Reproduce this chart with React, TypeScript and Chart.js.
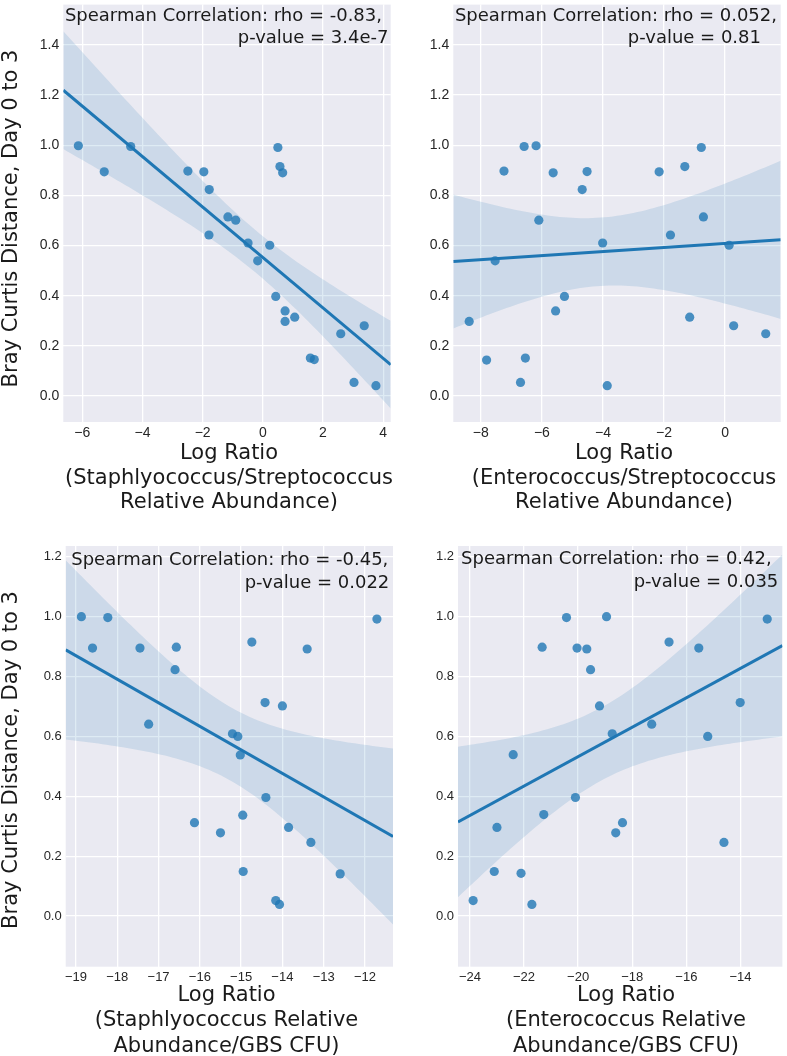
import React, { useEffect, useRef } from "react";
import { Chart, registerables } from "chart.js";

Chart.register(...registerables);

// ---------------- data ----------------
const p1X = [-6.13, -5.27, -4.39, -2.49, -1.96, -1.78, -1.79, -1.16, -0.9, -0.49, -0.17, 0.23, 0.5, 0.57, 0.66, 0.43, 0.74, 0.74, 1.06, 1.58, 1.71, 2.59, 3.37, 3.03, 3.76];
const p1Y = [0.998, 0.894, 0.995, 0.897, 0.894, 0.823, 0.642, 0.714, 0.701, 0.61, 0.539, 0.601, 0.991, 0.915, 0.89, 0.397, 0.339, 0.297, 0.314, 0.151, 0.145, 0.248, 0.28, 0.054, 0.041];

const p2X = [-8.38, -7.81, -7.53, -7.24, -6.7, -6.58, -6.54, -6.19, -6.1, -5.63, -5.55, -5.26, -4.68, -4.52, -4.01, -3.86, -2.16, -1.79, -1.32, -1.16, -0.78, -0.71, 0.13, 0.28, 1.33];
const p2Y = [0.297, 0.143, 0.539, 0.897, 0.054, 0.995, 0.151, 0.998, 0.701, 0.89, 0.339, 0.397, 0.823, 0.895, 0.61, 0.041, 0.894, 0.642, 0.915, 0.314, 0.991, 0.714, 0.601, 0.28, 0.248];

const p3X = [-18.87, -18.6, -18.23, -17.45, -17.24, -16.57, -16.6, -16.13, -15.5, -15.21, -15.08, -15.02, -14.96, -14.95, -14.74, -14.42, -14.4, -14.0, -13.85, -14.16, -14.07, -13.4, -13.31, -12.6, -11.71];
const p3Y = [1.0, 0.895, 0.997, 0.895, 0.641, 0.898, 0.823, 0.312, 0.278, 0.609, 0.6, 0.538, 0.337, 0.149, 0.915, 0.713, 0.396, 0.702, 0.296, 0.052, 0.039, 0.892, 0.246, 0.141, 0.992];

const p4X = [-23.88, -23.1, -23.0, -22.4, -22.11, -21.71, -21.33, -21.27, -20.43, -20.1, -20.04, -19.68, -19.54, -19.21, -18.95, -18.74, -18.61, -18.36, -17.28, -16.64, -15.54, -15.21, -14.61, -14.01, -13.01];
const p4Y = [0.052, 0.149, 0.296, 0.539, 0.143, 0.039, 0.898, 0.339, 0.997, 0.396, 0.895, 0.892, 0.823, 0.702, 1.0, 0.609, 0.278, 0.312, 0.641, 0.915, 0.895, 0.6, 0.246, 0.713, 0.992];

const yTicksTop = [0, 0.2, 0.4, 0.6, 0.8, 1.0, 1.2, 1.4];
const yTicksBottom = [0, 0.2, 0.4, 0.6, 0.8, 1.0, 1.2];
const p1XTicks = [-6, -4, -2, 0, 2, 4];
const p2XTicks = [-8, -6, -4, -2, 0];
const p3XTicks = [-19, -18, -17, -16, -15, -14, -13, -12];
const p4XTicks = [-24, -22, -20, -18, -16, -14];

const p1Annotation = ["Spearman Correlation: rho = -0.83,", "p-value = 3.4e-7"];
const p2Annotation = ["Spearman Correlation: rho = 0.052,", "p-value = 0.81"];
const p3Annotation = ["Spearman Correlation: rho = -0.45,", "p-value = 0.022"];
const p4Annotation = ["Spearman Correlation: rho = 0.42,", "p-value = 0.035"];

const p1XTitle = ["Log Ratio", "(Staphlyococcus/Streptococcus", "Relative Abundance)"];
const p2XTitle = ["Log Ratio", "(Enterococcus/Streptococcus", "Relative Abundance)"];
const p3XTitle = ["Log Ratio", "(Staphlyococcus Relative", "Abundance/GBS CFU)"];
const p4XTitle = ["Log Ratio", "(Enterococcus Relative", "Abundance/GBS CFU)"];

const yTitle = "Bray Curtis Distance, Day 0 to 3";

// ---------------- layout / style ----------------
const W = 787;
const H = 1056;
const T975 = 2.069; // Student t, df = 23

const panels = [
  {
    xs: p1X, ys: p1Y, xTicks: p1XTicks, yTicks: yTicksTop,
    xRange: [-6.63, 4.25], yRange: [-0.104, 1.561],
    area: { l: 63.3, r: 390.7, t: 0, b: 422 }, tickSize: 14,
    ann: p1Annotation, annRight: [382, 388.5], annBase: [20.7, 42.7],
    xTitle: p1XTitle, xTitleX: 229, xTitleBase: [459.3, 483.8, 508.3],
    yTitleCenter: 218.5,
  },
  {
    xs: p2X, ys: p2Y, xTicks: p2XTicks, yTicks: yTicksTop,
    xRange: [-8.9, 1.82], yRange: [-0.104, 1.561],
    area: { l: 453.3, r: 780.7, t: 0, b: 422 }, tickSize: 14,
    ann: p2Annotation, annRight: [777, 761], annBase: [20.7, 42.7],
    xTitle: p2XTitle, xTitleX: 624, xTitleBase: [459.3, 483.8, 508.3],
    yTitleCenter: null,
  },
  {
    xs: p3X, ys: p3Y, xTicks: p3XTicks, yTicks: yTicksBottom,
    xRange: [-19.25, -11.32], yRange: [-0.169, 1.236],
    area: { l: 65.7, r: 393, t: 546, b: 966.7 }, tickSize: 13,
    ann: p3Annotation, annRight: [388.3, 389.3], annBase: [565, 587.5],
    xTitle: p3XTitle, xTitleX: 226.5, xTitleBase: [1000.7, 1026.2, 1051.7],
    yTitleCenter: 760,
  },
  {
    xs: p4X, ys: p4Y, xTicks: p4XTicks, yTicks: yTicksBottom,
    xRange: [-24.44, -12.45], yRange: [-0.169, 1.236],
    area: { l: 458, r: 785, t: 546, b: 966.7 }, tickSize: 13,
    ann: p4Annotation, annRight: [771.7, 778.3], annBase: [564, 586.5],
    xTitle: p4XTitle, xTitleX: 626, xTitleBase: [1000.7, 1026.2, 1051.7],
    yTitleCenter: null,
  },
];

type PanelCfg = (typeof panels)[number];

function fitLine(xs: number[], ys: number[]) {
  const n = xs.length;
  const mx = xs.reduce((a, b) => a + b, 0) / n;
  const my = ys.reduce((a, b) => a + b, 0) / n;
  let sxx = 0;
  let sxy = 0;
  for (let i = 0; i < n; i++) {
    sxx += (xs[i] - mx) ** 2;
    sxy += (xs[i] - mx) * (ys[i] - my);
  }
  const b = sxy / sxx;
  const a = my - b * mx;
  let sse = 0;
  for (let i = 0; i < n; i++) sse += (ys[i] - (a + b * xs[i])) ** 2;
  const s = Math.sqrt(sse / (n - 2));
  return { a, b, s, mx, sxx, n };
}

const fmtX = (v: number) => (v < 0 ? "\u2212" + Math.abs(v) : String(v));

function makeConfig(p: PanelCfg): any {
  const f = fitLine(p.xs, p.ys);
  const [x0, x1] = p.xRange;
  const samples: number[] = [];
  const N = 80;
  for (let i = 0; i <= N; i++) samples.push(x0 + ((x1 - x0) * i) / N);
  const pred = (x: number) => f.a + f.b * x;
  const half = (x: number) =>
    T975 * f.s * Math.sqrt(1 / f.n + (x - f.mx) ** 2 / f.sxx);
  const upper = samples.map((x) => ({ x, y: pred(x) + half(x) }));
  const lower = samples.map((x) => ({ x, y: pred(x) - half(x) }));
  const line = [
    { x: x0, y: pred(x0) },
    { x: x1, y: pred(x1) },
  ];
  const points = p.xs.map((x, i) => ({ x, y: p.ys[i] }));

  const decor = {
    id: "decor",
    beforeDraw(chart: any) {
      const { ctx, chartArea: a } = chart;
      ctx.save();
      ctx.fillStyle = "#EAEAF2";
      ctx.fillRect(a.left, a.top, a.right - a.left, a.bottom - a.top);
      ctx.restore();
    },
    afterDraw(chart: any) {
      const ctx = chart.ctx;
      ctx.save();
      ctx.fillStyle = "#1a1a1a";
      ctx.textBaseline = "alphabetic";
      ctx.font = '18px "DejaVu Sans"';
      ctx.textAlign = "right";
      p.ann.forEach((s, i) => ctx.fillText(s, p.annRight[i], p.annBase[i]));
      ctx.font = '21px "DejaVu Sans"';
      ctx.textAlign = "center";
      p.xTitle.forEach((s, i) => ctx.fillText(s, p.xTitleX, p.xTitleBase[i]));
      if (p.yTitleCenter != null) {
        ctx.translate(16.5, p.yTitleCenter);
        ctx.rotate(-Math.PI / 2);
        ctx.fillText(yTitle, 0, 0);
      }
      ctx.restore();
    },
  };

  const tickFont = { family: '"Liberation Sans", Arial, sans-serif', size: p.tickSize };

  return {
    type: "scatter",
    data: {
      datasets: [
        {
          type: "scatter",
          data: points,
          backgroundColor: "rgba(31,119,180,0.8)",
          borderWidth: 0,
          pointRadius: 4.6,
          pointHoverRadius: 4.6,
          order: 0,
        },
        {
          type: "line",
          data: line,
          borderColor: "#1f77b4",
          borderWidth: 3,
          pointRadius: 0,
          fill: false,
          order: 1,
        },
        {
          type: "line",
          data: upper,
          borderWidth: 0,
          borderColor: "rgba(0,0,0,0)",
          pointRadius: 0,
          backgroundColor: "rgba(31,119,180,0.15)",
          fill: "+1",
          order: 2,
        },
        {
          type: "line",
          data: lower,
          borderWidth: 0,
          borderColor: "rgba(0,0,0,0)",
          pointRadius: 0,
          fill: false,
          order: 3,
        },
      ],
    },
    options: {
      responsive: false,
      animation: false,
      events: [],
      layout: { padding: { left: 0, top: p.area.t, right: W - p.area.r, bottom: 0 } },
      plugins: { legend: { display: false }, tooltip: { enabled: false } },
      scales: {
        x: {
          type: "linear",
          position: "bottom",
          min: p.xRange[0],
          max: p.xRange[1],
          afterBuildTicks: (s: any) => {
            s.ticks = p.xTicks.map((v) => ({ value: v }));
          },
          afterFit: (s: any) => {
            s.height = H - p.area.b;
            s.paddingLeft = 0;
            s.paddingRight = 0;
          },
          grid: { color: "#ffffff", lineWidth: 1.3, drawTicks: false },
          border: { display: false },
          ticks: {
            padding: 3,
            font: tickFont,
            color: "#262626",
            maxRotation: 0,
            autoSkip: false,
            callback: (v: number) => fmtX(v),
          },
        },
        y: {
          type: "linear",
          position: "left",
          min: p.yRange[0],
          max: p.yRange[1],
          afterBuildTicks: (s: any) => {
            s.ticks = p.yTicks.map((v) => ({ value: v }));
          },
          afterFit: (s: any) => {
            s.width = p.area.l;
            s.paddingTop = 0;
            s.paddingBottom = 0;
          },
          grid: { color: "#ffffff", lineWidth: 1.3, drawTicks: false },
          border: { display: false },
          ticks: {
            padding: 4,
            font: tickFont,
            color: "#262626",
            autoSkip: false,
            callback: (v: number) => v.toFixed(1),
          },
        },
      },
    },
    plugins: [decor],
  };
}

function Panel({ cfg }: { cfg: PanelCfg }) {
  const ref = useRef<HTMLCanvasElement | null>(null);
  useEffect(() => {
    if (!ref.current) return;
    const chart = new Chart(ref.current, makeConfig(cfg));
    return () => chart.destroy();
  }, [cfg]);
  return (
    <canvas
      ref={ref}
      width={W}
      height={H}
      style={{ position: "absolute", left: 0, top: 0, width: W, height: H }}
    />
  );
}

export default function App() {
  return (
    <div
      style={{
        position: "absolute",
        left: 0,
        top: 0,
        width: W,
        height: H,
        background: "#ffffff",
        overflow: "hidden",
      }}
    >
      {panels.map((p, i) => (
        <Panel key={i} cfg={p} />
      ))}
    </div>
  );
}
